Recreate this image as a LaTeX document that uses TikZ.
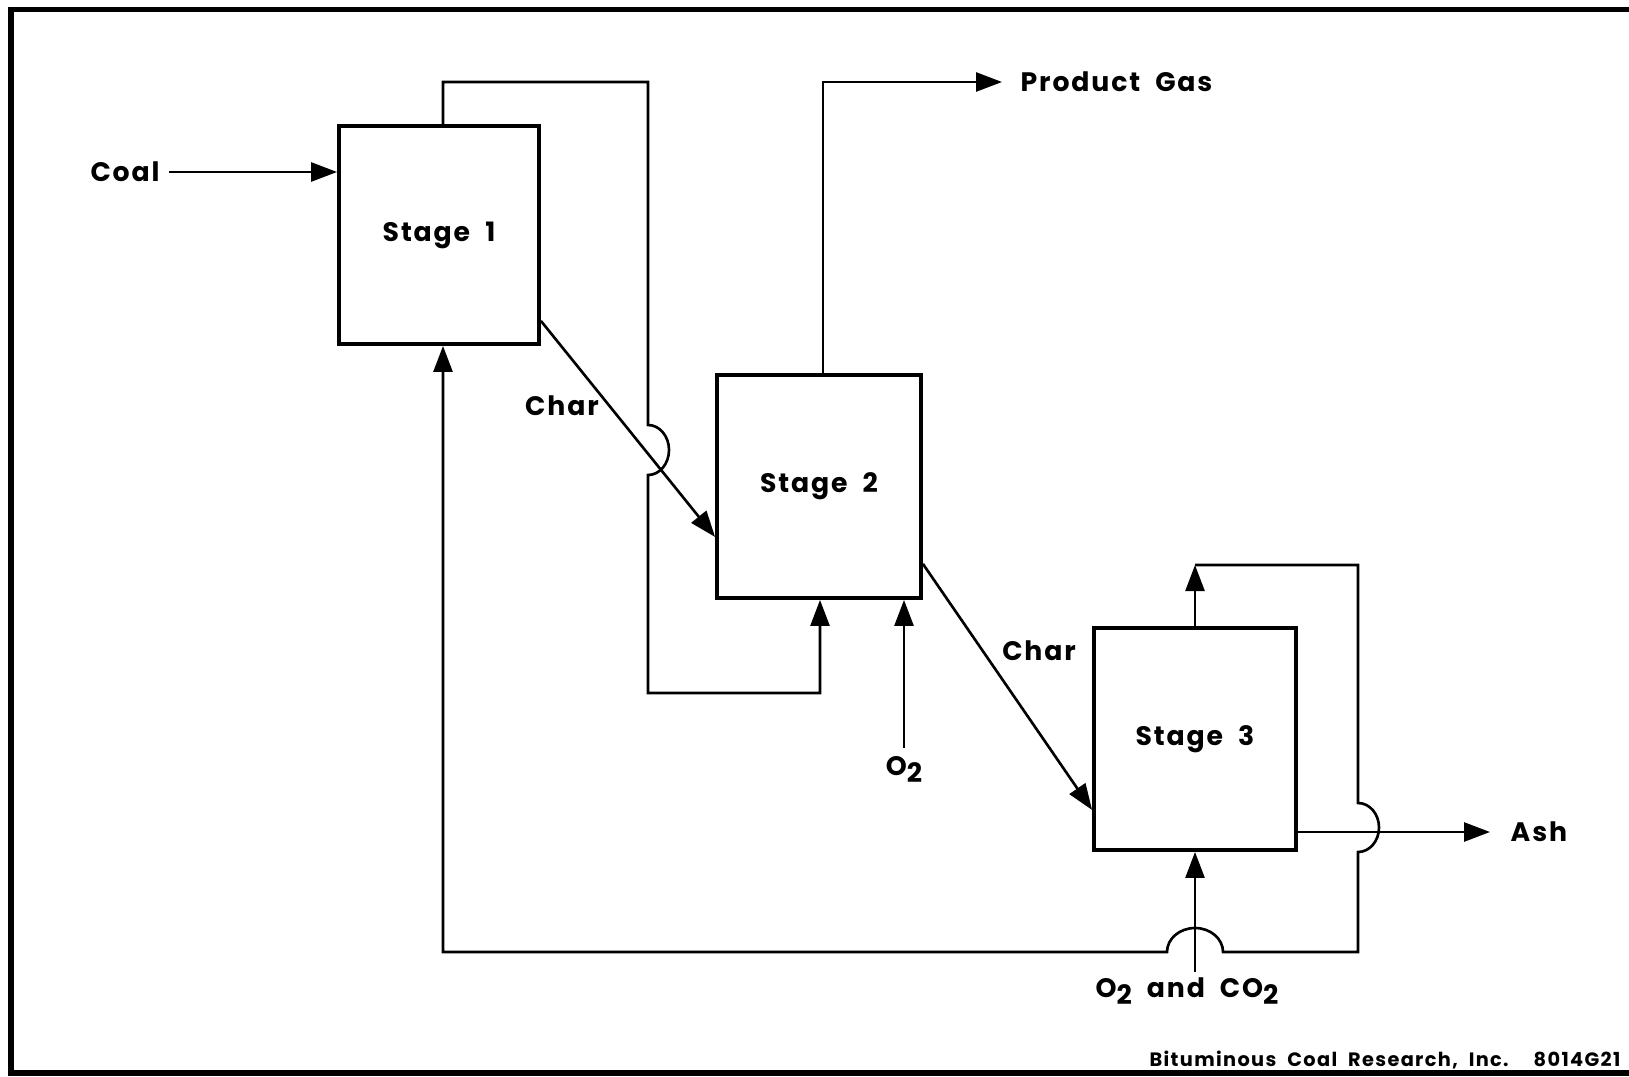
\documentclass[tikz,border=0pt]{standalone}
\usepackage{fontspec}
\setmainfont{Poppins}[LetterSpace=7,WordSpace={2.0,1,1}]
\usepackage{tikz}
\usetikzlibrary{arrows.meta,calc}
\newcommand{\lowtwo}{\raisebox{-0.45ex}{2}}

\begin{document}
\begin{tikzpicture}[scale=1.0, every node/.style={inner sep=0pt, font=\bfseries\fontsize{7.6}{9}\selectfont},
  stage/.style={draw, line width=1.1pt},
  pipe/.style={line width=0.75pt},
  flow/.style={pipe, -{Triangle[length=0.26cm,width=0.19cm]}}]
  \useasboundingbox (0,0) rectangle (16.29,10.76);
  \draw[line width=1.5pt] (16.29,10.665) -- (0.11,10.665) -- (0.11,0.03) -- (16.29,0.03);
  \node[stage, minimum width=2.00cm, minimum height=2.18cm] (st1) at (4.39,8.41) {Stage 1};
  \node[stage, minimum width=2.04cm, minimum height=2.23cm] (st2) at (8.19,5.895) {Stage 2};
  \node[stage, minimum width=2.02cm, minimum height=2.22cm] (st3) at (11.95,3.37) {Stage 3};
  \node (coal) at (1.25,9.04) {Coal};
  \node[anchor=west] (gas) at (10.20,9.94) {Product Gas};
  \node (char1) at (5.62,6.70) {Char};
  \node (char2) at (10.39,4.25) {Char};
  \node[anchor=north] (oxy) at (9.04,3.20) {O\lowtwo};
  \node[anchor=north] (oxyco) at (11.87,0.99) {O\lowtwo\ and CO\lowtwo};
  \node[anchor=west] (ash) at (15.10,2.44) {Ash};
  \node[anchor=base east, font=\bfseries\fontsize{5.5}{6.5}\selectfont] (firm) at (16.21,0.10) {Bituminous Coal Research, Inc.\hspace{0.25cm}8014G21};
  \coordinate (ta) at (4.43,9.94);
  \coordinate (tb) at (6.48,9.94);
  \coordinate (tj) at (6.48,6.51);
  \coordinate (tc) at (6.48,3.83);
  \coordinate (td) at (8.20,3.83);
  \coordinate (pa) at (8.23,9.94);
  \coordinate (ra) at (11.95,5.11);
  \coordinate (rb) at (13.58,5.11);
  \coordinate (rj) at (13.58,2.73);
  \coordinate (rc) at (13.58,1.24);
  \coordinate (bj) at (12.23,1.24);
  \coordinate (bl) at (4.43,1.24);
  \draw[flow] ([xshift=0.09cm]coal.east) -- (coal.east -| st1.west);
  \draw[flow] (st1.north -| ta) -- (ta) -- (tb) -- (tj) arc[start angle=90,end angle=-90,x radius=0.21,y radius=0.25] -- (tc) -- (td) -- (st2.south -| td);
  \draw[flow] (st2.north -| pa) -- (pa) -- ([xshift=-0.18cm]gas.west);
  \draw[flow] ([yshift=0.25cm]st1.south east) -- ([yshift=0.63cm]st2.south west);
  \draw[flow] ([yshift=0.36cm]st2.south east) -- ([yshift=0.42cm]st3.south west);
  \draw[flow] ([yshift=0.08cm]oxy.north) -- (oxy.north |- st2.south);
  \draw[flow] (st3.north) -- (ra);
  \draw[flow] (ra) -- (rb) -- (rj) arc[start angle=90,end angle=-90,x radius=0.21,y radius=0.245] -- (rc) -- (bj) arc[start angle=0,end angle=180,x radius=0.28,y radius=0.24] -- (bl) -- (bl |- st1.south);
  \draw[flow] (st3.east |- ash.west) -- ([xshift=-0.2cm]ash.west);
  \draw[flow] (st3.south |- 0,1.04) -- (st3.south);
\end{tikzpicture}
\end{document}
